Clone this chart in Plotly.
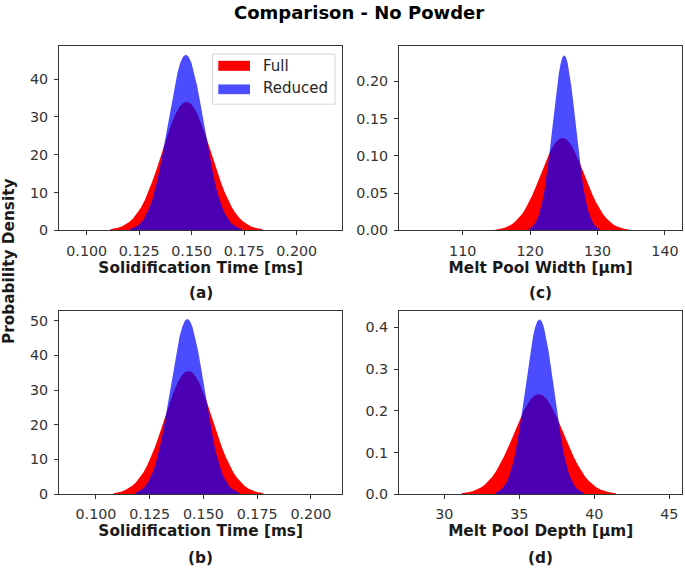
import plotly.graph_objects as go

# ---------------- data (histogram densities) ----------------
# panel (a): Solidification Time [ms]
a_full_start, a_full_width = 0.1113, 0.00181
a_full = [0.28, 0.45, 0.69, 1.06, 1.6, 2.3, 3.2, 4.5, 6.0, 7.9, 10.2, 12.9, 15.8, 18.9,
          22.1, 25.2, 28.1, 30.5, 32.4, 33.6, 34.0, 33.6, 32.4, 30.5, 28.1, 25.2, 22.1,
          18.9, 15.8, 12.9, 10.2, 7.9, 6.0, 4.5, 3.2, 2.3, 1.6, 1.06, 0.69, 0.45, 0.28]
a_red_start, a_red_width = 0.1206, 0.00133
a_reduced = [0.38, 0.61, 0.95, 1.45, 2.1, 3.1, 4.4, 6.1, 8.2, 10.9, 14.0, 17.6, 21.6, 25.8,
             30.2, 34.4, 38.4, 41.7, 44.3, 45.9, 46.5, 45.9, 44.3, 41.7, 38.4, 34.4, 30.2,
             25.8, 21.6, 17.6, 14.0, 10.9, 8.2, 6.1, 4.4, 3.1, 2.1, 1.45, 0.95, 0.61, 0.38]

# panel (b): Solidification Time [ms]
b_full_start, b_full_width = 0.1082, 0.00174
b_full = [0.29, 0.47, 0.72, 1.10, 1.64, 2.4, 3.4, 4.7, 6.3, 8.3, 10.7, 13.4, 16.5, 19.7,
          23.0, 26.3, 29.3, 31.9, 33.8, 35.1, 35.5, 35.1, 33.8, 31.9, 29.3, 26.3, 23.0,
          19.7, 16.5, 13.4, 10.7, 8.3, 6.3, 4.7, 3.4, 2.4, 1.64, 1.10, 0.72, 0.47, 0.29]
b_red_start, b_red_width = 0.1181, 0.00122
b_reduced = [0.41, 0.66, 1.03, 1.57, 2.3, 3.4, 4.8, 6.6, 9.0, 11.8, 15.2, 19.1, 23.4, 28.0,
             32.8, 37.4, 41.7, 45.3, 48.1, 49.9, 50.5, 49.9, 48.1, 45.3, 41.7, 37.4, 32.8,
             28.0, 23.4, 19.1, 15.2, 11.8, 9.0, 6.6, 4.8, 3.4, 2.3, 1.57, 1.03, 0.66, 0.41]

# panel (c): Melt Pool Width [µm]
c_full_start, c_full_width = 114.8, 0.5
c_full = [0.0010, 0.0016, 0.0025, 0.0039, 0.0057, 0.0083, 0.0118, 0.0163, 0.0220, 0.0290,
          0.0373, 0.0469, 0.0575, 0.0688, 0.0805, 0.0918, 0.1023, 0.1113, 0.1182, 0.1225,
          0.1240, 0.1225, 0.1182, 0.1113, 0.1023, 0.0918, 0.0805, 0.0688, 0.0575, 0.0469,
          0.0373, 0.0290, 0.0220, 0.0163, 0.0118, 0.0083, 0.0057, 0.0039, 0.0025, 0.0016, 0.0010]
c_red_start, c_red_width = 119.77, 0.264
c_reduced = [0.0019, 0.0031, 0.0048, 0.0073, 0.0109, 0.0157, 0.0223, 0.0309, 0.0417, 0.0549,
             0.0707, 0.0888, 0.1089, 0.1305, 0.1525, 0.1740, 0.1939, 0.2109, 0.2240, 0.2322,
             0.2350, 0.2322, 0.2240, 0.2109, 0.1939, 0.1740, 0.1525, 0.1305, 0.1089, 0.0888,
             0.0707, 0.0549, 0.0417, 0.0309, 0.0223, 0.0157, 0.0109, 0.0073, 0.0048, 0.0031, 0.0019]

# panel (d): Melt Pool Depth [µm]
d_full_start, d_full_width = 31.16, 0.257
d_full = [0.0020, 0.0031, 0.0049, 0.0075, 0.0111, 0.0161, 0.0228, 0.0315, 0.0426, 0.0561,
          0.0722, 0.0907, 0.1113, 0.1332, 0.1557, 0.1777, 0.1980, 0.2154, 0.2287, 0.2371,
          0.2400, 0.2371, 0.2287, 0.2154, 0.1980, 0.1777, 0.1557, 0.1332, 0.1113, 0.0907,
          0.0722, 0.0561, 0.0426, 0.0315, 0.0228, 0.0161, 0.0111, 0.0075, 0.0049, 0.0031, 0.0020]
d_red_start, d_red_width = 33.41, 0.147
d_reduced = [0.0034, 0.0055, 0.0086, 0.0131, 0.0194, 0.0281, 0.0399, 0.0551, 0.0745, 0.0982,
             0.1263, 0.1588, 0.1947, 0.2331, 0.2725, 0.3111, 0.3465, 0.3770, 0.4003, 0.4150,
             0.4200, 0.4150, 0.4003, 0.3770, 0.3465, 0.3111, 0.2725, 0.2331, 0.1947, 0.1588,
             0.1263, 0.0982, 0.0745, 0.0551, 0.0399, 0.0281, 0.0194, 0.0131, 0.0086, 0.0055, 0.0034]

series_names = ["Full", "Reduced"]
title_text = "Comparison - No Powder"
y_title = "Probability Density"
x_titles = ["Solidification Time [ms]", "Melt Pool Width [µm]",
            "Solidification Time [ms]", "Melt Pool Depth [µm]"]
panel_labels = ["(a)", "(c)", "(b)", "(d)"]

time_ticks = [0.100, 0.125, 0.150, 0.175, 0.200]
a_yticks = [0, 10, 20, 30, 40]
b_yticks = [0, 10, 20, 30, 40, 50]
c_xticks = [110, 120, 130, 140]
c_yticks = [0.00, 0.05, 0.10, 0.15, 0.20]
d_xticks = [30, 35, 40, 45]
d_yticks = [0.0, 0.1, 0.2, 0.3, 0.4]

# ---------------- figure ----------------
W, H = 685, 570          # reference picture size (layout positions are fractions of it)
PAGE_H = 579             # page height that the capture maps onto the 570-px picture
FONT = "DejaVu Sans"
RED = "#ff0000"
BLUE = "rgba(0,0,255,0.7)"
AX = "#333333"
TICK_SIZE = 14.3

def centers(start, width, n):
    return [start + i * width for i in range(n)]

panels = [
    (a_full, a_full_start, a_full_width, a_reduced, a_red_start, a_red_width, ""),
    (c_full, c_full_start, c_full_width, c_reduced, c_red_start, c_red_width, "2"),
    (b_full, b_full_start, b_full_width, b_reduced, b_red_start, b_red_width, "3"),
    (d_full, d_full_start, d_full_width, d_reduced, d_red_start, d_red_width, "4"),
]

fig = go.Figure()
for full, fs, fw, red, rs, rw, suf in panels:
    fig.add_trace(go.Scatter(x=centers(fs, fw, len(full)), y=full, mode="lines",
                             fill="tozeroy", fillcolor=RED, line=dict(width=0, color=RED),
                             name=series_names[0], showlegend=False, hoverinfo="x+y",
                             xaxis="x" + suf, yaxis="y" + suf))
    fig.add_trace(go.Scatter(x=centers(rs, rw, len(red)), y=red, mode="lines",
                             fill="tozeroy", fillcolor=BLUE, line=dict(width=0, color=BLUE),
                             name=series_names[1], showlegend=False, hoverinfo="x+y",
                             xaxis="x" + suf, yaxis="y" + suf))

def px_x(p):
    return p / W

def px_y(p):
    return 1 - p / H

col_dom = [(59, 342.3), (399, 682.3)]
row_dom = [(45.7, 230), (310, 493.3)]

def xax(dom, rng, ticks, fmt, title, anchor):
    return dict(domain=[px_x(dom[0]), px_x(dom[1])], range=rng, tickvals=ticks,
                tickformat=fmt, showline=True, mirror=True, linecolor=AX, linewidth=1,
                ticks="outside", ticklen=4, tickcolor=AX, tickwidth=1, showgrid=False,
                zeroline=False, anchor=anchor, ticklabelstandoff=3,
                tickfont=dict(family=FONT, size=TICK_SIZE, color="#333333"),
                title=dict(text="<b>" + title + "</b>", standoff=3,
                           font=dict(family=FONT, size=15.3, color="#1a1a1a")))

def yax(dom, rng, ticks, fmt, anchor):
    return dict(domain=[px_y(dom[1]), px_y(dom[0])], range=rng, tickvals=ticks,
                tickformat=fmt, showline=True, mirror=True, linecolor=AX, linewidth=1,
                ticks="outside", ticklen=4, tickcolor=AX, tickwidth=1, showgrid=False,
                zeroline=False, anchor=anchor, ticklabelstandoff=3,
                tickfont=dict(family=FONT, size=TICK_SIZE, color="#333333"))

fig.update_layout(
    width=W, height=PAGE_H, autosize=False,
    margin=dict(l=0, r=0, t=0, b=0),
    paper_bgcolor="white", plot_bgcolor="white",
    showlegend=False,
    font=dict(family=FONT, color="#1a1a1a"),
    xaxis=xax(col_dom[0], [0.0868, 0.2217], time_ticks, ".3f", x_titles[0], "y"),
    yaxis=yax(row_dom[0], [0, 48.8], a_yticks, "d", "x"),
    xaxis2=xax(col_dom[1], [100.55, 142.57], c_xticks, "d", x_titles[1], "y2"),
    yaxis2=yax(row_dom[0], [0, 0.2477], c_yticks, ".2f", "x2"),
    xaxis3=xax(col_dom[0], [0.0828, 0.2146], time_ticks, ".3f", x_titles[2], "y3"),
    yaxis3=yax(row_dom[1], [0, 52.9], b_yticks, "d", "x3"),
    xaxis4=xax(col_dom[1], [26.98, 45.87], d_xticks, "d", x_titles[3], "y4"),
    yaxis4=yax(row_dom[1], [0, 0.4406], d_yticks, ".1f", "x4"),
)

ann = [
    dict(text="<b>" + title_text + "</b>", x=px_x(359.5), y=px_y(12), xref="paper", yref="paper",
         showarrow=False, xanchor="center", yanchor="middle",
         font=dict(family=FONT, size=18, color="#000000")),
    dict(text="<b>" + y_title + "</b>", x=px_x(9), y=px_y(261.5), xref="paper", yref="paper",
         showarrow=False, xanchor="center", yanchor="middle", textangle=-90,
         font=dict(family=FONT, size=15.3, color="#1a1a1a")),
]
label_pos = [(200.5, 292.5), (540.5, 292.5), (200.5, 557.5), (540.5, 557.5)]
for lab, (lx, ly) in zip(panel_labels, label_pos):
    ann.append(dict(text="<b>" + lab + "</b>", x=px_x(lx), y=px_y(ly), xref="paper", yref="paper",
                    showarrow=False, xanchor="center", yanchor="middle",
                    font=dict(family=FONT, size=15.3, color="#1a1a1a")))

ann.append(dict(text=series_names[0], x=px_x(261), y=px_y(65.7), xref="paper", yref="paper",
                showarrow=False, xanchor="left", yanchor="middle",
                font=dict(family=FONT, size=15, color="#262626")))
ann.append(dict(text=series_names[1], x=px_x(261), y=px_y(88.3), xref="paper", yref="paper",
                showarrow=False, xanchor="left", yanchor="middle",
                font=dict(family=FONT, size=15, color="#262626")))
fig.update_layout(annotations=ann)

shapes = [
    dict(type="rect", xref="paper", yref="paper", x0=px_x(212.7), x1=px_x(335),
         y0=px_y(104), y1=px_y(54), line=dict(color="#d6d6d6", width=1),
         fillcolor="rgba(255,255,255,0.8)", layer="above"),
    dict(type="rect", xref="paper", yref="paper", x0=px_x(218.3), x1=px_x(250),
         y0=px_y(70.7), y1=px_y(60.7), line=dict(width=0), fillcolor=RED, layer="above"),
    dict(type="rect", xref="paper", yref="paper", x0=px_x(218.3), x1=px_x(250),
         y0=px_y(94), y1=px_y(84.3), line=dict(width=0), fillcolor=BLUE, layer="above"),
]
fig.update_layout(shapes=shapes)

fig.write_html("out.html", config={"displayModeBar": False},
               post_script="document.body.style.margin='0';document.body.style.overflow='hidden';")
